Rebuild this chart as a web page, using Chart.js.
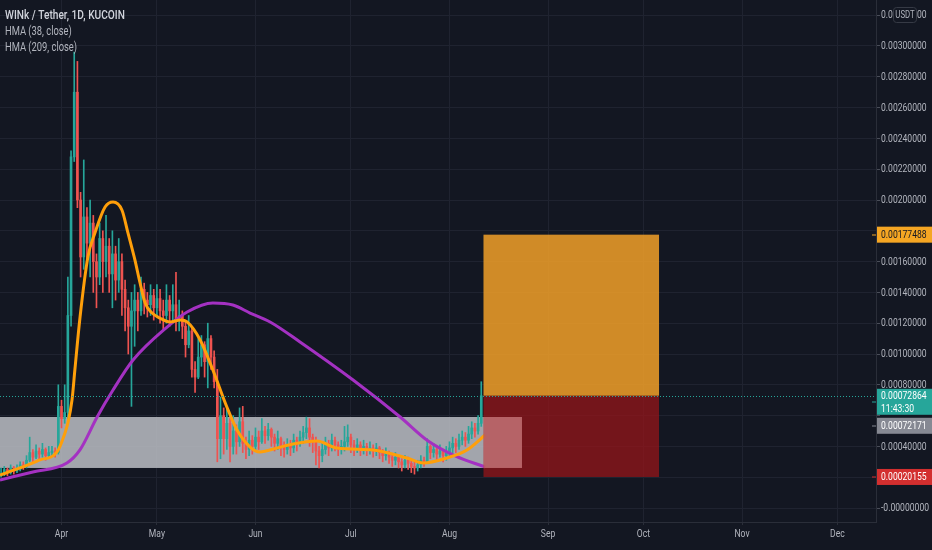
<!DOCTYPE html>
<html>
<head>
<meta charset="utf-8">
<script src="https://cdn.jsdelivr.net/npm/chart.js@4.4.0/dist/chart.umd.min.js"></script>
<style>
  html, body { margin: 0; padding: 0; background: #131722; }
  #chart { display: block; }
</style>
</head>
<body>
<canvas id="chart" width="932" height="550"></canvas>
<script>
// daily candles, day 0 = Apr 1
const firstDay = -19;
const firstOpen = 0.00021;
const closes = [
  0.00022, 0.00025, 0.00023, 0.00026, 0.00024, 0.00025, 0.00028, 0.00027, 0.00031, 0.00036,
  0.00033, 0.00037, 0.00035, 0.00038, 0.00034, 0.00036, 0.00037, 0.00036, 0.00066,
  0.00058, 0.00062, 0.00125, 0.00228, 0.00270, 0.00200, 0.00163, 0.00189, 0.00172, 0.00185,
  0.00160, 0.00150, 0.00175, 0.00160, 0.00170, 0.00152, 0.00165, 0.00148, 0.00160, 0.00142,
  0.00130, 0.00118, 0.00128, 0.00135, 0.00128, 0.00142, 0.00135, 0.00132, 0.00138, 0.00130,
  0.00136, 0.00128, 0.00125, 0.00135, 0.00128, 0.00132, 0.00122, 0.00125, 0.00118, 0.00106,
  0.00115, 0.00090, 0.00085, 0.00098, 0.00106, 0.00095, 0.00110, 0.00098, 0.00082, 0.00045,
  0.00060, 0.00045, 0.00055, 0.00040, 0.00050, 0.00043, 0.00056, 0.00042, 0.00038, 0.00044,
  0.00040, 0.00046, 0.00043, 0.00050, 0.00047, 0.00051, 0.00046, 0.00042, 0.00045, 0.00040,
  0.00038, 0.00041, 0.00039, 0.00044, 0.00042, 0.00046, 0.00049, 0.00052, 0.00046, 0.00043,
  0.00037, 0.00034, 0.00038, 0.00042, 0.00039, 0.00044, 0.00041, 0.00038, 0.00040, 0.00043,
  0.00046, 0.00041, 0.00039, 0.00041, 0.00038, 0.00040, 0.00038, 0.00039, 0.00037, 0.00039,
  0.00036, 0.00034, 0.00036, 0.00033, 0.00031, 0.00033, 0.00030, 0.00028, 0.00031, 0.00029,
  0.00027, 0.00026, 0.00028, 0.00031, 0.00030, 0.00040, 0.00036, 0.00038, 0.00035, 0.00037,
  0.00034, 0.00036, 0.00039, 0.00042, 0.00040, 0.00044, 0.00046, 0.00044, 0.00048, 0.00052,
  0.00050, 0.00055, 0.00072864
];
const highs = [
  0.00026, 0.00027, 0.00026, 0.00028, 0.00027, 0.00028, 0.00030, 0.00030, 0.00034, 0.00046,
  0.00038, 0.00041, 0.00039, 0.00042, 0.00039, 0.00040, 0.00040, 0.00039, 0.00080,
  0.00070, 0.00080, 0.00150, 0.00232, 0.00296, 0.00290, 0.00205, 0.00226, 0.00195, 0.00200,
  0.00190, 0.00165, 0.00185, 0.00180, 0.00190, 0.00175, 0.00180, 0.00170, 0.00175, 0.00165,
  0.00148, 0.00135, 0.00140, 0.00145, 0.00140, 0.00150, 0.00146, 0.00140, 0.00145, 0.00142,
  0.00145, 0.00142, 0.00135, 0.00145, 0.00138, 0.00145, 0.00153, 0.00135, 0.00128, 0.00122,
  0.00125, 0.00118, 0.00095, 0.00110, 0.00112, 0.00108, 0.00120, 0.00112, 0.00102, 0.00090,
  0.00072, 0.00065, 0.00064, 0.00058, 0.00060, 0.00054, 0.00065, 0.00066, 0.00046, 0.00050,
  0.00047, 0.00052, 0.00050, 0.00058, 0.00053, 0.00055, 0.00052, 0.00048, 0.00050, 0.00046,
  0.00043, 0.00045, 0.00044, 0.00048, 0.00046, 0.00050, 0.00053, 0.00059, 0.00058, 0.00048,
  0.00046, 0.00040, 0.00042, 0.00046, 0.00044, 0.00048, 0.00046, 0.00043, 0.00044, 0.00053,
  0.00054, 0.00048, 0.00044, 0.00045, 0.00043, 0.00044, 0.00042, 0.00043, 0.00041, 0.00042,
  0.00040, 0.00038, 0.00039, 0.00037, 0.00035, 0.00036, 0.00034, 0.00032, 0.00034, 0.00033,
  0.00031, 0.00030, 0.00031, 0.00034, 0.00033, 0.00045, 0.00041, 0.00042, 0.00040, 0.00041,
  0.00038, 0.00040, 0.00043, 0.00046, 0.00045, 0.00048, 0.00050, 0.00049, 0.00053, 0.00056,
  0.00055, 0.00060, 0.00082
];
const lows = [
  0.00020, 0.00021, 0.00021, 0.00022, 0.00022, 0.00023, 0.00024, 0.00025, 0.00026, 0.00030,
  0.00030, 0.00032, 0.00032, 0.00033, 0.00031, 0.00033, 0.00034, 0.00033, 0.00035,
  0.00052, 0.00055, 0.00058, 0.00118, 0.00225, 0.00195, 0.00150, 0.00155, 0.00160, 0.00150,
  0.00140, 0.00130, 0.00145, 0.00140, 0.00150, 0.00140, 0.00130, 0.00135, 0.00140, 0.00125,
  0.00115, 0.00100, 0.00066, 0.00105, 0.00115, 0.00125, 0.00126, 0.00124, 0.00125, 0.00122,
  0.00124, 0.00120, 0.00116, 0.00120, 0.00118, 0.00120, 0.00115, 0.00115, 0.00110, 0.00098,
  0.00104, 0.00085, 0.00075, 0.00084, 0.00092, 0.00085, 0.00078, 0.00090, 0.00078, 0.00030,
  0.00032, 0.00035, 0.00038, 0.00030, 0.00035, 0.00035, 0.00040, 0.00036, 0.00032, 0.00034,
  0.00035, 0.00038, 0.00038, 0.00042, 0.00042, 0.00044, 0.00040, 0.00037, 0.00038, 0.00034,
  0.00033, 0.00035, 0.00034, 0.00036, 0.00037, 0.00040, 0.00042, 0.00045, 0.00040, 0.00036,
  0.00028, 0.00026, 0.00030, 0.00035, 0.00034, 0.00037, 0.00037, 0.00034, 0.00035, 0.00037,
  0.00040, 0.00036, 0.00034, 0.00036, 0.00034, 0.00035, 0.00034, 0.00035, 0.00033, 0.00034,
  0.00032, 0.00030, 0.00031, 0.00029, 0.00027, 0.00028, 0.00026, 0.00024, 0.00026, 0.00025,
  0.00023, 0.00022, 0.00024, 0.00026, 0.00027, 0.00029, 0.00032, 0.00033, 0.00031, 0.00033,
  0.00030, 0.00031, 0.00033, 0.00036, 0.00036, 0.00038, 0.00041, 0.00040, 0.00042, 0.00045,
  0.00046, 0.00048, 0.00053
];

// HMA (38, close)
const hma38Days = [-19.34, -13.1, -6.8, -1.4, 1.1, 2.0, 3.3, 4.2, 5.8, 8.3, 10.5, 13.7, 16.2, 19.0, 20.9,
  23.1, 24.7, 26.3, 28.5, 30.9, 34.1, 37.3, 39.5, 43.6, 47.6, 52.0, 55.2, 59.3, 62.4, 67.8, 72.8, 80.3,
  86.6, 98.0, 108.6, 113.7, 121.2, 127.5, 133.2];
const hma38Values = [0.000214, 0.00026, 0.000312, 0.000364, 0.000487, 0.000552, 0.000701, 0.000896,
  0.001234, 0.00163, 0.001786, 0.001955, 0.001987, 0.001935, 0.001786, 0.00161, 0.001461, 0.001331,
  0.001266, 0.001234, 0.001208, 0.001221, 0.001208, 0.001091, 0.000896, 0.000656, 0.000506, 0.000396,
  0.000364, 0.00039, 0.000416, 0.000435, 0.00039, 0.000377, 0.000325, 0.000292, 0.000325, 0.000377, 0.000474];

// HMA (209, close)
const hma209Days = [-19.34, -9.0, 1.7, 5.8, 11.2, 16.2, 22.5, 33.2, 39.5, 47.6, 53.9, 59.3, 65.6, 75.0,
  91.7, 106.5, 115.3, 123.8, 133.2];
const hma209Values = [0.000182, 0.000234, 0.000292, 0.000377, 0.000591, 0.000766, 0.000961, 0.001175,
  0.001273, 0.001331, 0.001318, 0.001266, 0.001208, 0.001078, 0.000831, 0.000591, 0.000435, 0.000338, 0.000266];

const monthDays = [0, 30, 61, 91, 122, 153, 183, 214, 244];
const monthLabels = ['Apr', 'May', 'Jun', 'Jul', 'Aug', 'Sep', 'Oct', 'Nov', 'Dec'];
const priceTicks = [0, 0.0002, 0.0004, 0.0006, 0.0008, 0.0010, 0.0012, 0.0014, 0.0016, 0.0018,
  0.0020, 0.0022, 0.0024, 0.0026, 0.0028, 0.0030, 0.0032];

// drawings
const zone = { from: -25, to: 144.8, top: 0.000591, bottom: 0.00026 };
const position = { from: 132.7, to: 187.9, entry: 0.00072864, target: 0.00177488, stop: 0.00020155 };
const lastPrice = 0.00072864;
const countdown = '11:43:30';
const otherPrice = '0.00072171';

const FONT = "Roboto, 'DejaVu Sans', sans-serif";
const SQUEEZE = 0.78;
const UP = '#26a69a';
const DOWN = '#ef5350';

const opens = closes.map((c, i) => (i === 0 ? firstOpen : closes[i - 1]));
const colors = closes.map((c, i) => (c >= opens[i] ? UP : DOWN));
const bodies = closes.map((c, i) => ({ x: firstDay + i, y: [opens[i], c] }));
const wicks = closes.map((c, i) => ({ x: firstDay + i, y: [lows[i], highs[i]] }));

// narrow text like the original screenshot
const text = (ctx, str, x, y, size, color, align = 'left', weight = '') => {
  ctx.save();
  ctx.font = `${weight} ${size}px ${FONT}`;
  ctx.fillStyle = color;
  ctx.textAlign = align;
  ctx.textBaseline = 'middle';
  ctx.translate(x, y);
  ctx.scale(SQUEEZE, 1);
  ctx.fillText(str, 0, 0);
  ctx.restore();
};

const overlays = {
  id: 'overlays',
  beforeDatasetsDraw(chart) {
    const { ctx, chartArea: a, scales: { x, y } } = chart;
    ctx.save();
    ctx.beginPath();
    ctx.rect(a.left, a.top, a.right - a.left, a.bottom - a.top);
    ctx.clip();
    const x0 = x.getPixelForValue(zone.from), x1 = x.getPixelForValue(zone.to);
    const y0 = y.getPixelForValue(zone.top), y1 = y.getPixelForValue(zone.bottom);
    ctx.fillStyle = 'rgba(188, 190, 196, 0.85)';
    ctx.fillRect(x0, y0, x1 - x0, y1 - y0);
    ctx.restore();
  },
  afterDatasetsDraw(chart) {
    const { ctx, chartArea: a, scales: { x, y } } = chart;
    ctx.save();
    const px0 = x.getPixelForValue(position.from), px1 = x.getPixelForValue(position.to);
    const yE = y.getPixelForValue(position.entry);
    const yT = y.getPixelForValue(position.target);
    const yS = y.getPixelForValue(position.stop);
    ctx.fillStyle = 'rgba(242, 160, 40, 0.85)';
    ctx.fillRect(px0, yT, px1 - px0, yE - yT);
    ctx.fillStyle = 'rgba(150, 22, 26, 0.75)';
    ctx.fillRect(px0, yE, px1 - px0, yS - yE);
    // where the stop box meets the grey zone
    const zx1 = x.getPixelForValue(zone.to);
    const zy0 = y.getPixelForValue(zone.top), zy1 = y.getPixelForValue(zone.bottom);
    ctx.fillStyle = 'rgba(220, 150, 155, 0.45)';
    ctx.fillRect(px0, zy0, zx1 - px0, zy1 - zy0);
    // last price line
    const yL = Math.round(y.getPixelForValue(lastPrice)) + 0.5;
    ctx.strokeStyle = UP;
    ctx.lineWidth = 1;
    ctx.setLineDash([1, 2]);
    ctx.beginPath();
    ctx.moveTo(a.left, yL);
    ctx.lineTo(a.right, yL);
    ctx.stroke();
    ctx.restore();
  },
  afterDraw(chart) {
    const { ctx, chartArea: a, scales: { x, y } } = chart;
    ctx.save();

    // price axis labels boxes
    const boxes = [
      { cy: y.getPixelForValue(position.target), h: 16, bg: '#f5a623', fg: '#131722', lines: [position.target.toFixed(8)] },
      { cy: y.getPixelForValue(lastPrice) + 6, h: 26, bg: UP, fg: '#ffffff', lines: [lastPrice.toFixed(8), countdown] },
      { cy: y.getPixelForValue(lastPrice) + 30, h: 16, bg: '#868993', fg: '#ffffff', lines: [otherPrice] },
      { cy: y.getPixelForValue(position.stop), h: 16, bg: '#d32f2f', fg: '#ffffff', lines: [position.stop.toFixed(8)] },
    ];

    // y tick labels
    priceTicks.forEach((v) => {
      const py = y.getPixelForValue(v);
      if (boxes.some((b) => Math.abs(b.cy - py) < b.h / 2 + 1)) return;
      text(ctx, v === 0 ? '-0.00000000' : v.toFixed(8), a.right + 5, py + 0.5, 11, '#b2b5be');
    });
    // x tick labels
    monthDays.forEach((d, i) => {
      text(ctx, monthLabels[i], x.getPixelForValue(d), a.bottom + 12.5, 11, '#b2b5be', 'center');
    });

    // legend
    text(ctx, 'WINk / Tether, 1D, KUCOIN', 5, 16, 13, '#d1d4dc', 'left', '500');
    text(ctx, 'HMA (38, close)', 5, 32, 12, '#b2b5be');
    text(ctx, 'HMA (209, close)', 5, 48, 12, '#b2b5be');

    // USDT button over top tick
    ctx.fillStyle = '#131722';
    ctx.strokeStyle = '#363a45';
    ctx.lineWidth = 1;
    ctx.beginPath();
    ctx.roundRect(893.5, 7.5, 23, 15, 3);
    ctx.fill();
    ctx.stroke();
    text(ctx, 'USDT', 905, 15.5, 10, '#b2b5be', 'center');

    boxes.forEach((b) => {
      ctx.fillStyle = b.bg;
      ctx.fillRect(a.right - 4, Math.round(b.cy) - 0.5, 4, 1);
      ctx.fillRect(a.right + 1, b.cy - b.h / 2, 56, b.h);
      b.lines.forEach((t, i) => {
        text(ctx, t, a.right + 5, b.cy - (b.lines.length - 1) * 6.5 + i * 13 + 0.5, 11, b.fg);
      });
    });
    ctx.restore();
  }
};

new Chart(document.getElementById('chart'), {
  type: 'line',
  data: {
    datasets: [
      {
        type: 'bar',
        data: wicks,
        backgroundColor: colors,
        barThickness: 1,
        grouped: false,
        order: 4,
      },
      {
        type: 'bar',
        data: bodies,
        backgroundColor: colors,
        barThickness: 2,
        minBarLength: 1,
        grouped: false,
        order: 3,
      },
      {
        type: 'line',
        data: hma38Days.map((d, i) => ({ x: d, y: hma38Values[i] })),
        borderColor: '#ff9f0a',
        borderWidth: 3,
        pointRadius: 0,
        cubicInterpolationMode: 'monotone',
        order: 1,
      },
      {
        type: 'line',
        data: hma209Days.map((d, i) => ({ x: d, y: hma209Values[i] })),
        borderColor: '#a431c2',
        borderWidth: 3,
        pointRadius: 0,
        cubicInterpolationMode: 'monotone',
        order: 2,
      },
    ],
  },
  options: {
    responsive: false,
    devicePixelRatio: 1,
    animation: false,
    events: [],
    layout: { padding: 0 },
    plugins: { legend: { display: false }, tooltip: { enabled: false } },
    scales: {
      x: {
        type: 'linear',
        offset: false,
        min: -19.34,
        max: 256.13,
        afterBuildTicks: (s) => { s.ticks = monthDays.map((v) => ({ value: v })); },
        afterFit: (s) => { s.height = 28; s.paddingLeft = 0; s.paddingRight = 0; },
        grid: { color: '#1f2330', offset: false, tickLength: 3, tickColor: '#2a2e39' },
        border: { color: '#2a2e39' },
        ticks: { display: false },
      },
      y: {
        position: 'right',
        min: -0.0000909,
        max: 0.0032987,
        afterBuildTicks: (s) => { s.ticks = priceTicks.map((v) => ({ value: v })); },
        afterFit: (s) => { s.width = 56; s.paddingTop = 0; s.paddingBottom = 0; },
        grid: { color: '#1f2330', tickLength: 4, tickColor: '#4a4e59' },
        border: { color: '#2a2e39' },
        ticks: { display: false },
      },
    },
  },
  plugins: [overlays],
});
</script>
</body>
</html>
